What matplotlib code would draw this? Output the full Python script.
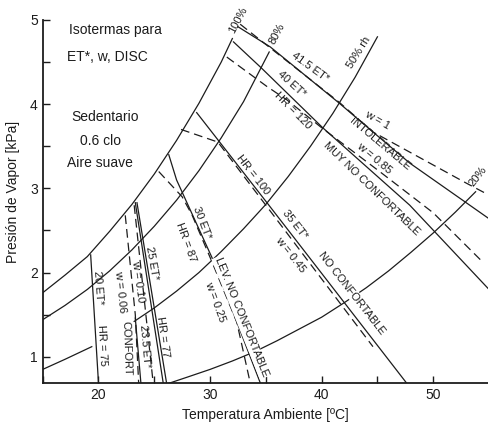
import matplotlib
matplotlib.use("Agg")
import matplotlib.pyplot as plt
from matplotlib.ticker import MultipleLocator

plt.rcParams["font.family"] = ["Liberation Sans", "DejaVu Sans"]

# relative humidity curves: temperature [C], vapour pressure [kPa]
rh100_t = [15, 17, 19, 21, 23, 25, 27, 29, 31, 32.0]
rh100_p = [1.76, 1.97, 2.19, 2.49, 2.81, 3.17, 3.57, 4.01, 4.50, 4.78]
rh80_t = [15, 17, 19, 21, 23, 25, 27, 29, 31, 33, 35.3]
rh80_p = [1.44, 1.61, 1.80, 2.02, 2.27, 2.55, 2.86, 3.21, 3.60, 4.03, 4.62]
rh50_lo_t = [15, 17, 19.4]
rh50_lo_p = [0.85, 0.97, 1.12]
rh50_hi_t = [23.2, 25, 27, 29, 31, 33, 35, 37, 39, 41, 43, 45]
rh50_hi_p = [1.42, 1.58, 1.78, 2.00, 2.25, 2.52, 2.81, 3.14, 3.50, 3.89, 4.32, 4.80]
rh20_t = [26.2, 28, 30, 32, 34, 36, 38, 40, 42, 44, 46, 48, 50, 52, 53.8]
rh20_p = [0.68, 0.76, 0.85, 0.95, 1.06, 1.19, 1.33, 1.47, 1.64, 1.82, 2.02, 2.24, 2.47, 2.72, 2.96]

# effective temperature (ET*) lines
et20_t, et20_p = [19.3, 20.0], [2.21, 0.69]
et23_t, et23_p = [23.3, 23.8], [1.46, 0.69]
et25_t, et25_p = [23.3, 25.8], [2.83, 0.69]
hr77_t, hr77_p = [23.45, 26.1], [2.83, 0.69]
et30_t, et30_p = [26.3, 27.0, 30.2, 34.5], [3.40, 3.10, 2.17, 0.69]
et35_t, et35_p = [28.8, 35.1, 47.6], [3.90, 2.83, 0.69]
et40_t, et40_p = [32.1, 34.6, 40.1, 47.9, 55.0], [4.74, 4.43, 3.72, 2.80, 1.80]
et41_t, et41_p = [32.5, 35.4, 41.6, 44.6, 47.9, 55.0], [4.92, 4.68, 4.01, 3.67, 3.30, 2.64]

# skin wettedness isolines
w006_t, w006_p = [22.4, 23.3, 23.6], [2.68, 1.50, 0.69]
w010_t, w010_p = [23.2, 24.9], [2.80, 0.69]
w025_t, w025_p = [25.4, 27.5, 28.4, 30.1, 32.4, 33.6], [3.20, 2.90, 2.68, 2.15, 1.41, 0.69]
w045_t, w045_p = [27.4, 30.7, 35.0, 44.6], [3.70, 3.55, 2.80, 1.12]
w085_t, w085_p = [31.5, 35.1, 36.9, 40.1, 45.2, 50.0, 54.4], [4.56, 4.21, 4.05, 3.71, 3.20, 2.71, 2.13]
w100_t, w100_p = [32.7, 41.6, 44.6, 53.0, 55.0], [4.95, 4.02, 3.67, 3.06, 2.92]

ink = "#1c1c1c"
solid = dict(color=ink, lw=0.9)
dashed = dict(color=ink, lw=0.9, ls=(0, (7, 4)))

fig = plt.figure(figsize=(4.89, 4.24), dpi=100)
ax = fig.add_axes([0.0873, 0.096, 0.9127, 0.904])

for t, p in [(rh100_t, rh100_p), (rh80_t, rh80_p), (rh50_lo_t, rh50_lo_p),
             (rh50_hi_t, rh50_hi_p), (rh20_t, rh20_p)]:
    ax.plot(t, p, **solid)

for t, p in [(et20_t, et20_p), (et23_t, et23_p), (et25_t, et25_p), (hr77_t, hr77_p),
             (et30_t, et30_p), (et35_t, et35_p), (et40_t, et40_p), (et41_t, et41_p)]:
    ax.plot(t, p, **solid)

for t, p in [(w006_t, w006_p), (w010_t, w010_p), (w025_t, w025_p),
             (w045_t, w045_p), (w085_t, w085_p), (w100_t, w100_p)]:
    ax.plot(t, p, **dashed)

# curve and zone labels
lab = dict(fontsize=8, color=ink, ha="center", va="center", rotation_mode="anchor")
boxed = dict(boxstyle="square,pad=0.1", fc="white", ec="none")
ax.text(32.5, 5.0, "100%", rotation=62, **lab)
ax.text(36.0, 4.84, "80%", rotation=62, **lab)
ax.text(43.3, 4.62, "50% rh", rotation=58, **lab)
ax.text(54.0, 3.14, "20%", rotation=52, **lab)
ax.text(39.0, 4.44, "41.5 ET*", rotation=-36, **lab)
ax.text(37.3, 4.24, "40 ET*", rotation=-42, **lab)
ax.text(37.4, 3.92, "HR = 120", rotation=-45, **lab)
ax.text(44.95, 3.81, "w = 1", rotation=-30, **lab)
ax.text(45.2, 3.53, "INTOLERABLE", rotation=-40, **lab)
ax.text(44.7, 3.36, "w = 0.85", rotation=-40, **lab)
ax.text(44.5, 3.00, "MUY NO CONFORTABLE", rotation=-44, bbox=boxed, **lab)
ax.text(33.8, 3.16, "HR = 100", rotation=-52, **lab)
ax.text(37.6, 2.57, "35 ET*", rotation=-52, **lab)
ax.text(37.2, 2.21, "w = 0.45", rotation=-52, **lab)
ax.text(42.7, 1.76, "NO CONFORTABLE", rotation=-52, bbox=boxed, **lab)
ax.text(29.3, 2.59, "30 ET*", rotation=-69, **lab)
ax.text(27.85, 2.36, "HR = 87", rotation=-70, **lab)
ax.text(32.8, 1.47, "LEV. NO CONFORTABLE", rotation=-68, bbox=boxed, **lab)
ax.text(30.45, 1.65, "w = 0.25", rotation=-70, **lab)
ax.text(24.8, 2.11, "25 ET*", rotation=-80, **lab)
ax.text(23.5, 1.89, "w = 0.10", rotation=-82, **lab)
ax.text(21.95, 1.77, "w = 0.06", rotation=-84, **lab)
ax.text(22.5, 1.10, "CONFORT", rotation=-88, **lab)
ax.text(25.8, 1.24, "HR = 77", rotation=-82, **lab)
ax.text(24.2, 1.12, "23.5 ET*", rotation=-85, **lab)
ax.text(20.0, 1.82, "20 ET*", rotation=-86, **lab)
ax.text(20.3, 1.14, "HR = 75", rotation=-87, **lab)

note = dict(fontsize=10, color=ink, va="center")
ax.text(17.4, 4.88, "Isotermas para", ha="left", **note)
ax.text(17.2, 4.56, "ET*, w, DISC", ha="left", **note)
ax.text(20.6, 3.85, "Sedentario", ha="center", **note)
ax.text(20.15, 3.56, "0.6 clo", ha="center", **note)
ax.text(20.15, 3.30, "Aire suave", ha="center", **note)

ax.set_xlim(15, 55)
ax.set_ylim(0.685, 5.2375)
ax.spines["top"].set_visible(False)
ax.spines["right"].set_visible(False)
ax.spines["left"].set_bounds(0.685, 5.0)
for s in ("left", "bottom"):
    ax.spines[s].set_linewidth(1.3)
    ax.spines[s].set_color(ink)

ax.set_xticks([20, 30, 40, 50])
ax.set_yticks([1, 2, 3, 4, 5])
ax.xaxis.set_minor_locator(MultipleLocator(5))
ax.yaxis.set_minor_locator(MultipleLocator(0.5))
ax.tick_params(which="both", direction="in", length=5, width=1.0, color=ink,
               labelsize=10, labelcolor=ink)
ax.set_xlabel("Temperatura Ambiente [ºC]", fontsize=10, color=ink, labelpad=4)
ax.set_ylabel("Presión de Vapor [kPa]", fontsize=10, color=ink, labelpad=7)

fig.savefig("out.png", dpi=100)
